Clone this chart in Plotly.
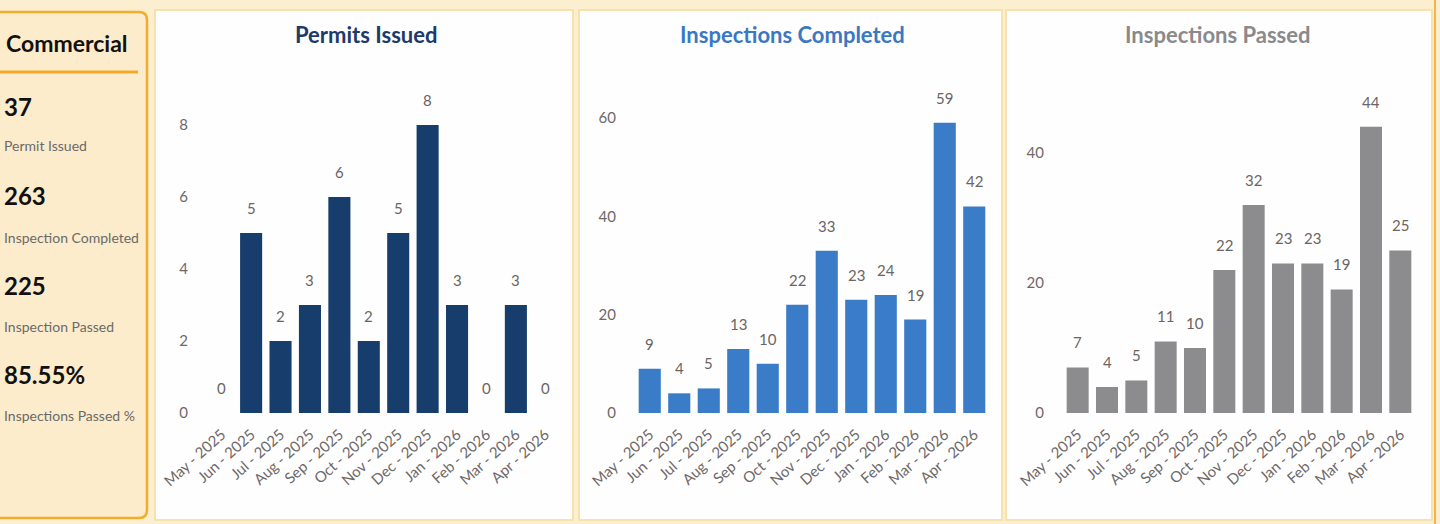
import plotly.graph_objects as go

W, H = 1440, 524

months = ["May - 2025", "Jun - 2025", "Jul - 2025", "Aug - 2025", "Sep - 2025", "Oct - 2025",
          "Nov - 2025", "Dec - 2025", "Jan - 2026", "Feb - 2026", "Mar - 2026", "Apr - 2026"]
permits_issued = [0, 5, 2, 3, 6, 2, 5, 8, 3, 0, 3, 0]
inspections_completed = [9, 4, 5, 13, 10, 22, 33, 23, 24, 19, 59, 42]
inspections_passed = [7, 4, 5, 11, 10, 22, 32, 23, 23, 19, 44, 25]

card_title = "Commercial"
kpi_values = ["37", "263", "225", "85.55%"]
kpi_labels = ["Permit Issued", "Inspection Completed", "Inspection Passed", "Inspections Passed %"]

chart_titles = ["Permits Issued", "Inspections Completed", "Inspections Passed"]
bar_colors = ["#163d6b", "#3a7cc7", "#8c8b8d"]
title_colors = ["#1c3a6a", "#3b78c3", "#8a898b"]
y_ranges = [9.25, 67.7, 51.2]
y_dticks = [2, 20, 20]
series = [permits_issued, inspections_completed, inspections_passed]

FONT = "Lato, Roboto, sans-serif"


def px(x):
    return x / W


def py(y):
    return 1 - y / H


fig = go.Figure()

shapes = []
shapes.append(dict(type="rect", xref="paper", yref="paper", x0=0, x1=1, y0=0, y1=1,
                   fillcolor="#fcefcf", line=dict(width=0), layer="below"))
x0, x1, y0, y1, r = -12, 147, 12, 518, 8
path = (f"M {px(x0)} {py(y0)} L {px(x1 - r)} {py(y0)} Q {px(x1)} {py(y0)} {px(x1)} {py(y0 + r)} "
        f"L {px(x1)} {py(y1 - r)} Q {px(x1)} {py(y1)} {px(x1 - r)} {py(y1)} L {px(x0)} {py(y1)} Z")
shapes.append(dict(type="path", xref="paper", yref="paper", path=path,
                   fillcolor="#fdeccb", line=dict(color="#f2ad2c", width=2.5), layer="below"))
shapes.append(dict(type="line", xref="paper", yref="paper", x0=px(0), x1=px(138), y0=py(72), y1=py(72),
                   line=dict(color="#f1aa28", width=3), layer="below"))
panels = [(155, 573), (579, 1002), (1006, 1432)]
for a, b in panels:
    shapes.append(dict(type="rect", xref="paper", yref="paper", x0=px(a), x1=px(b), y0=py(520), y1=py(10),
                       fillcolor="#fefefe", line=dict(color="#f7e2ad", width=2), layer="below"))
shapes.append(dict(type="line", xref="paper", yref="paper", x0=px(1435), x1=px(1435), y0=0, y1=1,
                   line=dict(color="#f3b54a", width=2), layer="below"))

annotations = []
annotations.append(dict(xref="paper", yref="paper", x=px(67), y=py(43), text="<b>" + card_title + "</b>",
                        showarrow=False, xanchor="center", yanchor="middle",
                        font=dict(family=FONT, size=23, color="#111111")))
val_y = [106, 195, 285, 374]
lab_y = [145, 237, 326, 415]
for v, l, vy, ly in zip(kpi_values, kpi_labels, val_y, lab_y):
    annotations.append(dict(xref="paper", yref="paper", x=px(2), y=py(vy), text="<b>" + v + "</b>",
                            showarrow=False, xanchor="left", yanchor="middle",
                            font=dict(family=FONT, size=24, color="#111111")))
    annotations.append(dict(xref="paper", yref="paper", x=px(2), y=py(ly), text=l,
                            showarrow=False, xanchor="left", yanchor="middle",
                            font=dict(family=FONT, size=14, color="#6a6a6a")))

title_x = [366, 792, 1218]
x_domains = [(207, 560), (635, 989), (1063, 1415)]
ydom = [py(413), py(80)]

for i in range(3):
    xa = "x" if i == 0 else f"x{i + 1}"
    ya = "y" if i == 0 else f"y{i + 1}"
    fig.add_trace(go.Bar(x=months, y=series[i], marker=dict(color=bar_colors[i], line=dict(width=0)),
                         xaxis=xa, yaxis=ya, showlegend=False, hoverinfo="x+y"))
    for m, v in zip(months, series[i]):
        annotations.append(dict(xref=xa, yref=ya, x=m, y=v, text=str(v), showarrow=False,
                                yshift=25, xanchor="center", yanchor="middle",
                                font=dict(family=FONT, size=15, color="#6b6464")))
    annotations.append(dict(xref="paper", yref="paper", x=px(title_x[i]), y=py(34),
                            text="<b>" + chart_titles[i] + "</b>", showarrow=False,
                            xanchor="center", yanchor="middle",
                            font=dict(family=FONT, size=22, color=title_colors[i])))
    xkey = "xaxis" if i == 0 else f"xaxis{i + 1}"
    ykey = "yaxis" if i == 0 else f"yaxis{i + 1}"
    fig.layout[xkey] = dict(domain=[px(x_domains[i][0]), px(x_domains[i][1])], anchor=ya,
                            tickangle=-42, showgrid=False, showline=False, zeroline=False,
                            tickfont=dict(family=FONT, size=15, color="#6e6868"),
                            ticks="outside", ticklen=6, tickcolor="rgba(0,0,0,0)",
                            fixedrange=True, automargin=False)
    fig.layout[ykey] = dict(domain=ydom, anchor=xa, range=[0, y_ranges[i]], dtick=y_dticks[i],
                            showgrid=False, showline=False, zeroline=False,
                            tickfont=dict(family=FONT, size=15, color="#6e6868"),
                            ticks="outside", ticklen=15, tickcolor="rgba(0,0,0,0)",
                            fixedrange=True, automargin=False)

fig.update_layout(width=W, height=H, margin=dict(l=0, r=0, t=0, b=0, autoexpand=False),
                  paper_bgcolor="#fcefcf", plot_bgcolor="rgba(0,0,0,0)",
                  bargap=0.25, shapes=shapes, annotations=annotations,
                  font=dict(family=FONT))

fig.write_html("out.html", config={"displayModeBar": False})
